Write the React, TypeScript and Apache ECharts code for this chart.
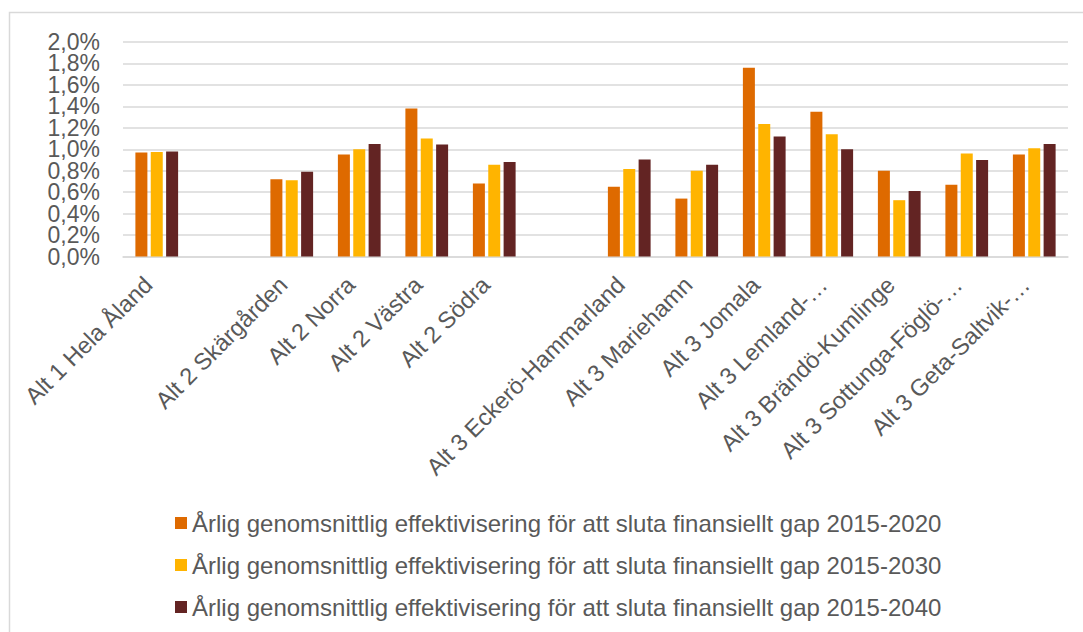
import React, { useEffect, useRef } from "react";
import * as echarts from "echarts";

const categories = [
  "Alt 1 Hela Åland",
  "",
  "Alt 2 Skärgården",
  "Alt 2 Norra",
  "Alt 2 Västra",
  "Alt 2 Södra",
  " ",
  "Alt 3 Eckerö-Hammarland",
  "Alt 3 Mariehamn",
  "Alt 3 Jomala",
  "Alt 3 Lemland-…",
  "Alt 3 Brändö-Kumlinge",
  "Alt 3 Sottunga-Föglö-…",
  "Alt 3 Geta-Saltvik-…",
];

const seriesNames = [
  "Årlig genomsnittlig effektivisering för att sluta finansiellt gap 2015-2020",
  "Årlig genomsnittlig effektivisering för att sluta finansiellt gap 2015-2030",
  "Årlig genomsnittlig effektivisering för att sluta finansiellt gap 2015-2040",
];

const values2020 = [0.97, null, 0.72, 0.95, 1.38, 0.68, null, 0.65, 0.54, 1.76, 1.35, 0.8, 0.67, 0.95];
const values2030 = [0.975, null, 0.71, 1.0, 1.1, 0.855, null, 0.815, 0.8, 1.235, 1.14, 0.525, 0.96, 1.01];
const values2040 = [0.98, null, 0.79, 1.05, 1.045, 0.88, null, 0.905, 0.855, 1.12, 1.0, 0.61, 0.9, 1.05];

const colors = ["#DE6A00", "#FFB400", "#632423"];

const FONT = "'Liberation Sans', Arial, sans-serif";
const FS = 24;
const YFS = 23;

const fmtPct = (v: number) => v.toFixed(1).replace(".", ",") + "%";

export default function App() {
  const ref = useRef<HTMLDivElement>(null);

  useEffect(() => {
    document.body.style.margin = "0";
    if (!ref.current) return;
    const chart = echarts.init(ref.current, null, { renderer: "svg" });
    const data = [values2020, values2030, values2040];

    const yAxisBase = (showEven: boolean, main: boolean) => ({
      type: "value",
      position: "left",
      min: 0,
      max: 2,
      interval: 0.2,
      axisLine: { show: false },
      axisTick: { show: false },
      splitLine: main ? { lineStyle: { color: "#d9d9d9", width: 1.5 } } : { show: false },
      axisLabel: {
        margin: 23,
        color: "#595959",
        fontSize: YFS,
        fontFamily: FONT,
        showMinLabel: true,
        showMaxLabel: true,
        formatter: (v: number) => {
          const idx = Math.round(v / 0.2);
          return (idx % 2 === 0) === showEven ? fmtPct(v) : "";
        },
      },
    });

    chart.setOption({
      animation: false,
      backgroundColor: "#ffffff",
      textStyle: { fontFamily: FONT },
      graphic: [
        {
          type: "rect",
          shape: { x: 9.5, y: 12.5, width: 1200, height: 800 },
          style: { fill: "none", stroke: "#d9d9d9", lineWidth: 1.5 },
          silent: true,
        },
      ],
      grid: { left: 123, right: 15, top: 42, bottom: 375.5, containLabel: false },
      legend: {
        orient: "vertical",
        left: 170,
        top: 506,
        itemWidth: 12,
        itemHeight: 12,
        itemGap: 18,
        icon: "rect",
        textStyle: { color: "#595959", fontSize: FS, lineHeight: 24, fontFamily: FONT },
        data: seriesNames,
      },
      xAxis: {
        type: "category",
        data: categories,
        axisLine: { lineStyle: { color: "#d9d9d9", width: 1.5 } },
        axisTick: { show: false },
        axisLabel: {
          interval: 0,
          rotate: 45,
          margin: 16,
          padding: [0, 12, 0, 0],
          color: "#595959",
          fontSize: 23.5,
          fontFamily: FONT,
        },
      },
      yAxis: [yAxisBase(true, true), yAxisBase(false, false)],
      series: seriesNames.map((name, i) => ({
        name,
        type: "bar",
        data: data[i],
        barWidth: 12,
        barGap: "28%",
        itemStyle: { color: colors[i] },
      })),
    });
    return () => chart.dispose();
  }, []);

  return <div ref={ref} style={{ width: 1083, height: 632 }} />;
}
